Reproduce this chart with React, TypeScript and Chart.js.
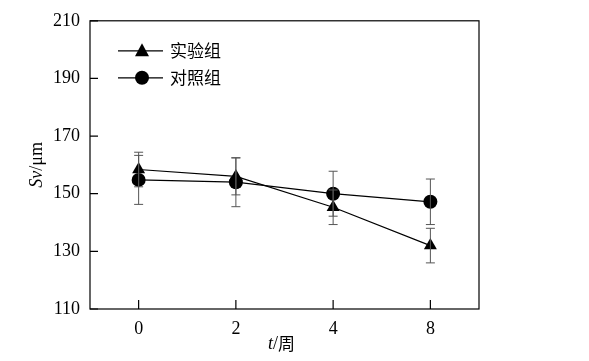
import React, { useEffect, useRef } from "react";
import { Chart, registerables } from "chart.js";

Chart.register(...registerables);

const categories = ["0", "2", "4", "8"];
const seriesNames = ["实验组", "对照组"];
const expValues = [158.4, 156.0, 145.3, 132.0];
const expErrors = [6.0, 6.4, 6.0, 6.0];
const ctrlValues = [154.8, 154.0, 150.0, 147.2];
const ctrlErrors = [8.5, 8.5, 7.8, 7.9];
const yTicks = [110, 130, 150, 170, 190, 210];

const SERIF = "'Liberation Serif', 'Times New Roman', serif";
const CJK = "'Noto Sans CJK SC', sans-serif";

const framePlugin = {
  id: "framePlugin",
  afterDatasetsDraw(chart: any) {
    const ctx = chart.ctx;
    const { left, right, top, bottom } = chart.chartArea;
    const xs = chart.scales.x;
    const ys = chart.scales.y;
    ctx.save();
    // error bars
    const errs = [expErrors, ctrlErrors];
    ctx.strokeStyle = "#555555";
    ctx.lineWidth = 1;
    chart.data.datasets.forEach((ds: any, di: number) => {
      ds.data.forEach((v: number, i: number) => {
        const x = xs.getPixelForValue(i);
        const yt = ys.getPixelForValue(v + errs[di][i]);
        const yb = ys.getPixelForValue(v - errs[di][i]);
        ctx.beginPath();
        ctx.moveTo(x, yt);
        ctx.lineTo(x, yb);
        ctx.moveTo(x - 4.5, yt);
        ctx.lineTo(x + 4.5, yt);
        ctx.moveTo(x - 4.5, yb);
        ctx.lineTo(x + 4.5, yb);
        ctx.stroke();
      });
    });
    // frame
    ctx.strokeStyle = "#000";
    ctx.lineWidth = 1.2;
    ctx.strokeRect(left, top, right - left, bottom - top);
    // inward ticks
    ctx.beginPath();
    yTicks.forEach((t) => {
      const y = ys.getPixelForValue(t);
      ctx.moveTo(left, y);
      ctx.lineTo(left + 8, y);
    });
    categories.forEach((_, i) => {
      const x = xs.getPixelForValue(i);
      ctx.moveTo(x, bottom);
      ctx.lineTo(x, bottom - 9);
    });
    ctx.stroke();
    // legend
    const rows = [
      { name: seriesNames[0], style: "triangle", y: top + 30 },
      { name: seriesNames[1], style: "circle", y: top + 57 },
    ];
    rows.forEach((r) => {
      ctx.strokeStyle = "#000";
      ctx.lineWidth = 1.2;
      ctx.beginPath();
      ctx.moveTo(left + 28, r.y);
      ctx.lineTo(left + 73, r.y);
      ctx.stroke();
      ctx.fillStyle = "#000";
      const cx = left + 52;
      ctx.beginPath();
      if (r.style === "circle") {
        ctx.arc(cx, r.y, 7, 0, Math.PI * 2);
      } else {
        ctx.moveTo(cx, r.y - 7.5);
        ctx.lineTo(cx + 7, r.y + 5.5);
        ctx.lineTo(cx - 7, r.y + 5.5);
        ctx.closePath();
      }
      ctx.fill();
      ctx.font = `17px ${CJK}`;
      ctx.textBaseline = "middle";
      ctx.textAlign = "left";
      ctx.fillText(r.name, left + 80, r.y);
    });
    // axis titles
    ctx.fillStyle = "#000";
    ctx.textBaseline = "middle";
    // x title: t/周
    const xMid = (left + right) / 2 - 3;
    const ty = bottom + 35;
    ctx.font = `italic 18px ${SERIF}`;
    const w1 = ctx.measureText("t").width;
    ctx.font = `18px ${SERIF}`;
    const w2 = ctx.measureText("/").width;
    ctx.font = `17px ${CJK}`;
    const w3 = ctx.measureText("周").width;
    let sx = xMid - (w1 + w2 + w3) / 2;
    ctx.textAlign = "left";
    ctx.font = `italic 18px ${SERIF}`;
    ctx.fillText("t", sx, ty);
    sx += w1;
    ctx.font = `18px ${SERIF}`;
    ctx.fillText("/", sx, ty);
    sx += w2;
    ctx.font = `17px ${CJK}`;
    ctx.fillText("周", sx, ty);
    // y title: Sv/μm rotated
    ctx.save();
    ctx.translate(37, (top + bottom) / 2);
    ctx.rotate(-Math.PI / 2);
    ctx.font = `italic 18px ${SERIF}`;
    const a1 = ctx.measureText("Sv").width;
    ctx.font = `18px ${SERIF}`;
    const a2 = ctx.measureText("/μm").width;
    let ax = -(a1 + a2) / 2;
    ctx.font = `italic 18px ${SERIF}`;
    ctx.fillText("Sv", ax, 0);
    ax += a1;
    ctx.font = `18px ${SERIF}`;
    ctx.fillText("/μm", ax, 0);
    ctx.restore();
    ctx.restore();
  },
};

export default function App() {
  const ref = useRef<HTMLCanvasElement>(null);
  useEffect(() => {
    if (!ref.current) return;
    const chart = new Chart(ref.current, {
      type: "line",
      data: {
        labels: categories,
        datasets: [
          {
            label: seriesNames[0],
            data: expValues,
            borderColor: "#000",
            backgroundColor: "#000",
            borderWidth: 1.2,
            pointStyle: "triangle",
            pointRadius: 7.5,
            pointBackgroundColor: "#000",
            pointBorderWidth: 0,
            tension: 0,
          },
          {
            label: seriesNames[1],
            data: ctrlValues,
            borderColor: "#000",
            backgroundColor: "#000",
            borderWidth: 1.2,
            pointStyle: "circle",
            pointRadius: 7,
            pointBackgroundColor: "#000",
            pointBorderWidth: 0,
            tension: 0,
          },
        ],
      },
      options: {
        animation: false,
        responsive: false,
        layout: { padding: { left: 0, right: 110, top: 17, bottom: 0 } },
        plugins: { legend: { display: false }, tooltip: { enabled: false } },
        scales: {
          x: {
            type: "category",
            offset: true,
            grid: { display: false, drawTicks: false },
            border: { display: false },
            ticks: { color: "#000", font: { family: SERIF, size: 18 }, padding: 9 },
            afterFit: (s: any) => {
              s.height = 52;
            },
          },
          y: {
            min: 110,
            max: 210,
            grid: { display: false, drawTicks: false },
            border: { display: false },
            ticks: {
              stepSize: 20,
              color: "#000",
              font: { family: SERIF, size: 18 },
              padding: 10,
            },
            afterFit: (s: any) => {
              s.width = 90;
            },
          },
        },
      },
      plugins: [framePlugin],
    });
    return () => chart.destroy();
  }, []);
  return (
    <div style={{ position: "fixed", left: 0, top: 0, width: 589, height: 361, background: "#fff" }}>
      <canvas ref={ref} width={589} height={361} />
    </div>
  );
}
